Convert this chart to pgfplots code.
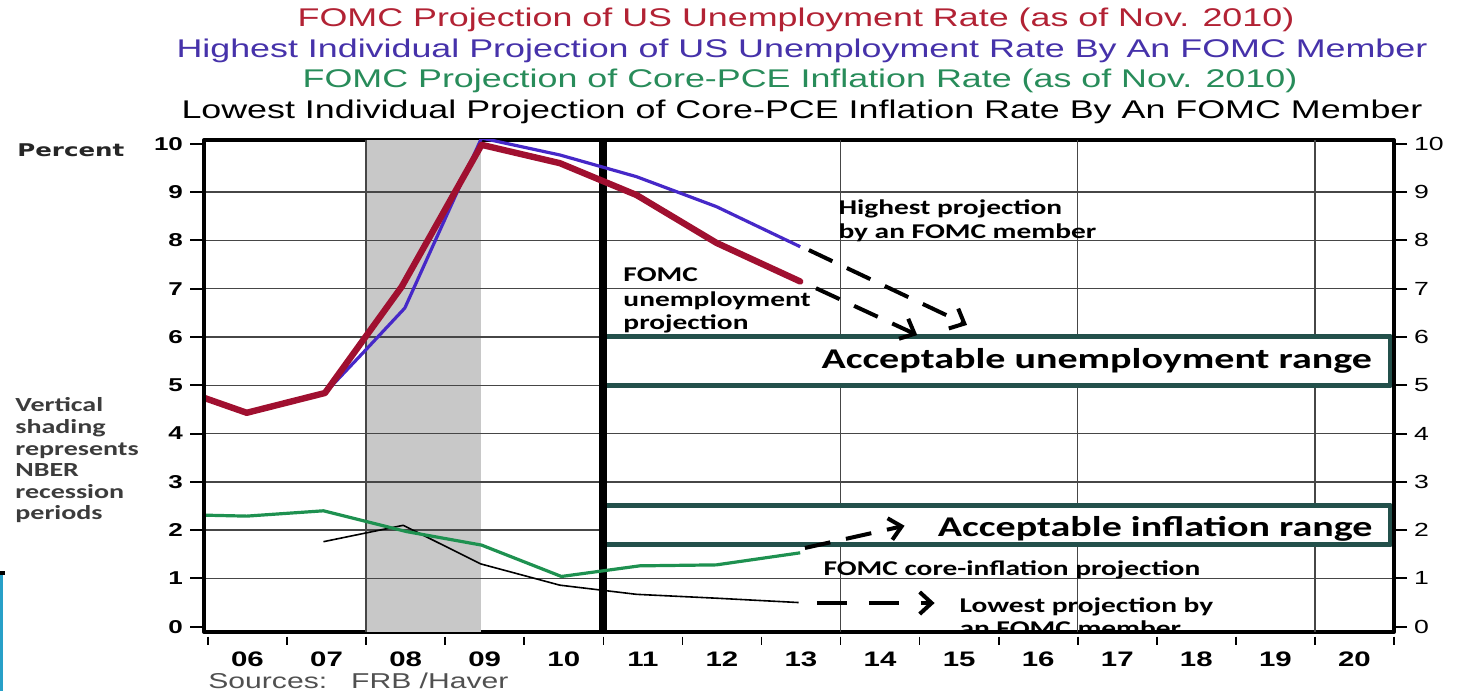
\documentclass[border=0pt]{standalone}
\usepackage{pgfplots}
\pgfplotsset{compat=1.18}
\usepackage{fontspec}
\usetikzlibrary{arrows.meta}
\setmainfont{Liberation Sans}[FakeStretch=1.4]
\newfontfamily\calfont{Carlito}[FakeStretch=1.4]
\newfontfamily\dejafont{DejaVu Sans}[FakeStretch=1.4]
\definecolor{tred}{RGB}{178,34,52}
\definecolor{lred}{RGB}{160,16,48}
\definecolor{tblue}{RGB}{70,50,170}
\definecolor{lblue}{RGB}{70,40,200}
\definecolor{tgreen}{RGB}{40,140,90}
\definecolor{lgreen}{RGB}{30,145,80}
\definecolor{boxc}{RGB}{35,80,75}
\definecolor{shade}{RGB}{200,200,200}
\definecolor{gridc}{RGB}{70,70,70}
\definecolor{srcc}{RGB}{80,80,80}
\definecolor{leftc}{RGB}{60,60,60}
\definecolor{edgec}{RGB}{40,160,200}
\begin{document}
\begin{tikzpicture}
\useasboundingbox (0,0) rectangle (730bp,345.5bp);
% titles
\node[anchor=base, text=tred, font=\fontsize{12.8bp}{15bp}\selectfont, inner sep=0] at (398bp,332bp) {FOMC Projection of US Unemployment Rate (as of Nov. 2010)};
\node[anchor=base, text=tblue, font=\fontsize{12.8bp}{15bp}\selectfont, inner sep=0] at (401bp,316.75bp) {Highest Individual Projection of US Unemployment Rate By An FOMC Member};
\node[anchor=base, text=tgreen, font=\fontsize{12.8bp}{15bp}\selectfont, inner sep=0] at (400bp,301.5bp) {FOMC Projection of Core-PCE Inflation Rate (as of Nov. 2010)};
\node[anchor=base, text=black, font=\fontsize{12.8bp}{15bp}\selectfont, inner sep=0] at (401bp,286.25bp) {Lowest Individual Projection of Core-PCE Inflation Rate By An FOMC Member};
% left texts
\node[anchor=base west, inner sep=0, font=\dejafont\bfseries\fontsize{8.75bp}{10bp}\selectfont, text=black!85] at (8.5bp,267.3bp) {Percent};
\foreach \t [count=\k from 0] in {Vertical,shading,represents,NBER,recession,periods}
  \node[anchor=base west, inner sep=0, font=\calfont\bfseries\fontsize{10bp}{11bp}\selectfont, text=leftc] at (7.5bp,{139.5bp-10.8bp*\k}) {\t};
\node[anchor=base west, inner sep=0, font=\fontsize{10.75bp}{12bp}\selectfont, text=srcc] at (104bp,1.5bp) {Sources:\hspace{12bp}FRB /Haver};
% screenshot edge artifact
\fill[edgec] (0,0) rectangle (1.6bp,59bp);
\fill[black] (0,58bp) rectangle (2.5bp,60bp);

\begin{axis}[
  at={(102bp,29.5bp)}, anchor=south west,
  scale only axis, width=595bp, height=246bp,
  xmin=-0.05, xmax=15, ymin=-0.11, ymax=10.08,
  axis line style={line width=2bp},
  xtick={0.5,1.5,...,14.5},
  xticklabels={06,07,08,09,10,11,12,13,14,15,16,17,18,19,20},
  x tick style={draw=none},
  xticklabel style={font=\bfseries\fontsize{10.5bp}{12bp}\selectfont, anchor=base, yshift=-10.5bp},
  ytick={0,...,10}, ytick pos=left, tick align=outside, major tick length=7bp,
  y tick style={line width=1bp, black},
  yticklabel style={font=\bfseries\fontsize{9.3bp}{10bp}\selectfont},
  /pgf/number format/assume math mode=true,
  line join=round,
]
% recession shading
\addplot[fill=shade, draw=none] coordinates {(2,-0.11) (3.45,-0.11) (3.45,10.08) (2,10.08)} -- cycle;
% grid
\pgfplotsinvokeforeach{1,...,9}{\draw[gridc, line width=0.75bp] (axis cs:-0.05,#1) -- (axis cs:15,#1);}
\pgfplotsinvokeforeach{2,8,11,14}{\draw[gridc, line width=0.75bp] (axis cs:#1,-0.11) -- (axis cs:#1,10.08);}
% acceptable ranges
\filldraw[fill=white, draw=boxc, line width=2.5bp] (axis cs:5,5) rectangle (axis cs:14.95,6);
\filldraw[fill=white, draw=boxc, line width=2.5bp] (axis cs:5,1.7) rectangle (axis cs:14.95,2.5);
% forecast divider
\draw[black, line width=4bp] (axis cs:5,-0.11) -- (axis cs:5,10.08);
% lowest core-PCE projection
\addplot[black, line width=0.8bp] coordinates {(1.46,1.76) (2.47,2.10) (3.45,1.30) (4.45,0.86) (5.42,0.67) (6.43,0.59) (7.47,0.50)};
% FOMC core-PCE projection
\addplot[lgreen, line width=1.6bp] coordinates {(-0.05,2.31) (0.49,2.29) (1.46,2.40) (2.51,1.97) (3.46,1.69) (4.47,1.04) (5.46,1.26) (6.43,1.28) (7.49,1.53)};
% highest unemployment projection
\addplot[lblue, line width=1.6bp] coordinates {(1.48,4.84) (1.96,5.67) (2.49,6.60) (3.46,10.12) (4.45,9.77) (5.42,9.32) (6.43,8.70) (7.49,7.87)};
% FOMC unemployment projection
\addplot[lred, line width=3.2bp, line cap=round] coordinates {(-0.05,4.74) (0.49,4.43) (1.48,4.84) (2.45,7.04) (3.46,9.98) (4.45,9.60) (5.42,8.94) (6.43,7.95) (7.49,7.15)};
% dashed arrows
\draw[black, line width=2bp, dash pattern=on 13bp off 8bp, -{Straight Barb[length=6bp,width=11bp,line width=2bp]}] (axis cs:7.6,7.80) -- (axis cs:9.6,6.25);
\draw[black, line width=2bp, dash pattern=on 13bp off 8bp, -{Straight Barb[length=6bp,width=11bp,line width=2bp]}] (axis cs:7.69,7.01) -- (axis cs:8.97,6.04);
\draw[black, line width=2bp, dash pattern=on 13bp off 8bp, -{Straight Barb[length=6bp,width=11bp,line width=2bp]}] (axis cs:7.55,1.63) -- (axis cs:8.81,2.09);
\draw[black, line width=2bp, dash pattern=on 15bp off 11bp, -{Straight Barb[length=6bp,width=11bp,line width=2bp]}] (axis cs:7.7,0.49) -- (axis cs:9.19,0.49);
% annotations
\node[anchor=base, inner sep=0, font=\calfont\bfseries\fontsize{14.3bp}{16bp}\selectfont] at (axis cs:11.24,5.35) {Acceptable unemployment range};
\node[anchor=base, inner sep=0, font=\calfont\bfseries\fontsize{14.3bp}{16bp}\selectfont] at (axis cs:11.98,1.86) {Acceptable inflation range};
\node[anchor=base west, inner sep=0, font=\calfont\bfseries\fontsize{10.5bp}{12bp}\selectfont] at (axis cs:7.97,8.53) {Highest projection};
\node[anchor=base west, inner sep=0, font=\calfont\bfseries\fontsize{10.5bp}{12bp}\selectfont] at (axis cs:7.97,8.05) {by an FOMC member};
\node[anchor=base west, inner sep=0, font=\calfont\bfseries\fontsize{10.5bp}{12bp}\selectfont] at (axis cs:5.25,7.15) {FOMC};
\node[anchor=base west, inner sep=0, font=\calfont\bfseries\fontsize{10.5bp}{12bp}\selectfont] at (axis cs:5.25,6.63) {unemployment};
\node[anchor=base west, inner sep=0, font=\calfont\bfseries\fontsize{10.5bp}{12bp}\selectfont] at (axis cs:5.25,6.15) {projection};
\node[anchor=base west, inner sep=0, font=\calfont\bfseries\fontsize{10.5bp}{12bp}\selectfont] at (axis cs:7.78,1.07) {FOMC core-inflation projection};
\node[anchor=base west, inner sep=0, font=\calfont\bfseries\fontsize{10.5bp}{12bp}\selectfont] at (axis cs:9.5,0.30) {Lowest projection by};
\node[anchor=base west, inner sep=0, font=\calfont\bfseries\fontsize{10.5bp}{12bp}\selectfont] at (axis cs:9.5,-0.19) {an FOMC member};
\end{axis}
% right-hand axis
\begin{axis}[
  at={(102bp,29.5bp)}, anchor=south west,
  scale only axis, width=595bp, height=246bp,
  xmin=-0.05, xmax=15, ymin=-0.11, ymax=10.08,
  hide x axis,
  axis line style={line width=2bp},
  ytick={0,...,10}, ytick pos=right, yticklabel pos=right, tick align=outside, major tick length=6.5bp,
  y tick style={line width=1bp, black},
  yticklabel style={font=\fontsize{9.5bp}{10bp}\selectfont},
  /pgf/number format/assume math mode=true,
]
\end{axis}
% small x-axis ticks below the frame
\foreach \i in {0,...,15} \draw[black, line width=0.8bp] ({104bp+39.535bp*\i},27.2bp) -- ++(0,-4.3bp);
\end{tikzpicture}
\end{document}
